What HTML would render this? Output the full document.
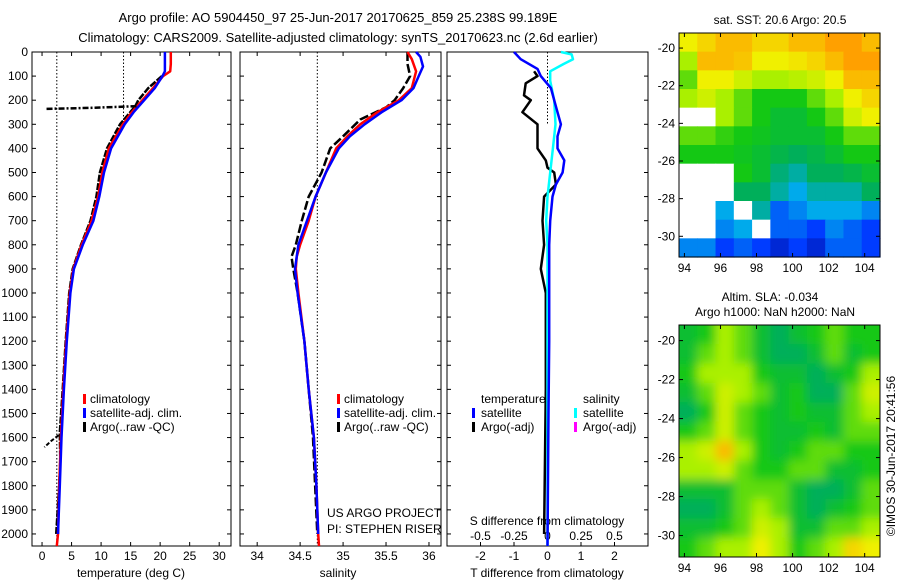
<!DOCTYPE html>
<html><head><meta charset="utf-8"><style>
html,body{margin:0;padding:0;background:#fff;}
svg{display:block;font-family:"Liberation Sans",sans-serif;}
text{font-size:12px;fill:#000;}
</style></head><body>
<svg id="fig" width="900" height="580" viewBox="0 0 900 580" xmlns="http://www.w3.org/2000/svg">
<defs>
<filter id="blur" x="-5%" y="-5%" width="110%" height="110%"><feGaussianBlur stdDeviation="5"/></filter>
<clipPath id="slaclip"><rect x="679" y="325" width="201" height="232"/></clipPath>
</defs>
<text x="338" y="22" text-anchor="middle" style="font-size:13px">Argo profile: AO 5904450_97 25-Jun-2017 20170625_859 25.238S 99.189E</text>
<text x="338" y="42" text-anchor="middle" style="font-size:13px">Climatology: CARS2009. Satellite-adjusted climatology: synTS_20170623.nc (2.6d earlier)</text>
<text x="780" y="24" text-anchor="middle">sat. SST: 20.6 Argo: 20.5</text>
<text x="770" y="301" text-anchor="middle">Altim. SLA: -0.034</text>
<text x="775" y="316" text-anchor="middle">Argo h1000: NaN h2000: NaN</text>
<text x="0" y="0" transform="translate(895,456) rotate(-90)" text-anchor="middle">©IMOS 30-Jun-2017 20:41:56</text>
<g id="g"></g>
</svg>
<script>
// ---- data ----
const depthTicks=[0,100,200,300,400,500,600,700,800,900,1000,1100,1200,1300,1400,1500,1600,1700,1800,1900,2000];
const tempTicks=[0,5,10,15,20,25,30];
const salTicks=[34,34.5,35,35.5,36];
const tdiffTicks=[-2,-1,0,1,2];
const sdiffTicks=[-0.5,-0.25,0,0.25,0.5];

const tClimDepth=[0,50,80,100,150,200,250,300,400,500,600,700,800,900,1000,1200,1400,1600,1800,2000,2050];
const tClim=[21.8,21.8,21.7,20.5,18.8,17,15.2,13.7,11.3,10.2,9.5,8.4,6.7,5.3,4.7,4.1,3.6,3.2,2.9,2.7,2.5];
const tSatDepth=[0,80,100,150,200,250,300,400,500,600,700,800,900,1000,1200,1400,1600,1800,2000];
const tSat=[20.8,20.8,20.4,19.1,17.3,15.5,14,11.7,10.5,9.7,8.7,6.9,5.4,4.8,4.2,3.7,3.3,3.0,2.7];
const tArgoDepth=[100,150,200,225,300,400,500,600,700,800,900,1000,1200,1400,1580,1700,1800,2000];
const tArgo=[20.3,18,16.3,15.8,13.2,11,9.8,9.2,8.2,6.6,5.2,4.6,4,3.5,3,3.1,2.9,2.4];
const tSpikeDepth=[225,232,236];
const tSpike=[16,8,0.5];
const tSpike2Depth=[1590,1615,1640];
const tSpike2=[2.8,1.5,0.4];

const sClimDepth=[0,30,80,150,200,250,300,350,400,500,600,700,800,850,900,1000,1200,1400,1600,1800,2000,2050];
const sClim=[35.75,35.8,35.85,35.8,35.65,35.4,35.2,35.05,34.92,34.8,34.68,34.6,34.5,34.46,34.45,34.48,34.55,34.6,34.66,34.69,34.71,34.72];
const sSatDepth=[0,20,60,100,150,200,250,300,350,400,500,600,700,800,900,1000,1200,1400,1600,1800,2000];
const sSat=[35.85,35.9,35.93,35.88,35.82,35.68,35.45,35.25,35.08,34.95,34.8,34.68,34.58,34.48,34.44,34.47,34.55,34.6,34.66,34.69,34.71];
const sArgoDepth=[0,50,100,150,200,230,280,350,400,500,600,700,800,850,900,1000,1200,1400,1600,2000];
const sArgo=[35.75,35.75,35.78,35.7,35.6,35.5,35.2,35.0,34.85,34.75,34.6,34.52,34.45,34.4,34.42,34.47,34.55,34.6,34.65,34.7];

const dTSatDepth=[0,30,70,100,150,200,250,300,350,400,450,500,550,600,700,800,1000,1200,1500,2050];
const dTSat=[-1,-0.8,-0.3,-0.2,0.1,0.2,0.3,0.4,0.3,0.3,0.5,0.45,0.25,0.15,0.08,0.05,0.05,0.05,0.03,0];
const dTArgoDepth=[80,100,130,180,200,250,300,400,450,480,500,550,600,700,800,900,1000,1200,1400,2000];
const dTArgo=[-0.4,-0.3,-0.65,-0.7,-0.5,-0.75,-0.3,-0.3,-0.05,0,0.2,0.25,-0.1,-0.15,-0.1,-0.2,-0.05,-0.05,-0.05,-0.1];
const dSSatDepth=[0,10,30,50,80,120,200,300,400,500,600,700,800,900,1200,2050];
const dSSat=[0.1,0.18,0.19,0.12,0.02,0.02,0.05,0.06,0.04,0.02,0,-0.01,0,0,0,0];

const mapLonTicks=[94,96,98,100,102,104];
const mapLatTicks=[-20,-22,-24,-26,-28,-30];
const N=null;
const sstGrid=[
[.7,.75,.8,.8,.75,.75,.8,.8,.85,.85,.8],
[.6,.8,.8,.78,.7,.7,.72,.75,.8,.85,.85],
[.55,.7,.7,.65,.6,.6,.62,.65,.7,.8,.8],
[.6,.65,.6,.55,.5,.5,.5,.55,.6,.7,.75],
[N,N,.6,.55,.5,.45,.45,.5,.55,.65,.7],
[.55,.55,.52,.5,.48,.45,.45,.45,.5,.55,.55],
[.5,.5,.5,.48,.45,.42,.4,.42,.45,.5,.5],
[N,N,N,.5,.45,.38,.35,.4,.4,.42,.45],
[N,N,N,.4,.4,.35,.3,.35,.35,.35,.4],
[N,N,.3,N,.35,.2,.25,.3,.3,.3,.25],
[N,N,.25,.3,N,.2,.2,.15,.25,.2,.15],
[.25,.25,.15,.2,.15,.1,.15,.1,.2,.2,.15]];
const slaGrid=[
[.45,.5,.6,.55,.45,.4,.45,.5,.55,.5,.5],
[.45,.55,.6,.55,.45,.4,.4,.45,.55,.45,.5],
[.5,.6,.6,.6,.5,.45,.45,.4,.45,.5,.6],
[.45,.55,.65,.6,.55,.45,.5,.4,.4,.55,.65],
[.4,.5,.65,.55,.5,.45,.5,.45,.45,.55,.6],
[.5,.55,.65,.55,.5,.45,.45,.5,.45,.55,.55],
[.6,.65,.8,.6,.5,.45,.5,.55,.55,.5,.5],
[.6,.6,.65,.55,.5,.5,.55,.55,.45,.45,.5],
[.45,.45,.45,.55,.55,.55,.45,.4,.4,.45,.55],
[.4,.4,.45,.55,.6,.55,.45,.4,.45,.5,.55],
[.45,.45,.5,.55,.65,.6,.45,.45,.55,.55,.6],
[.5,.55,.6,.6,.7,.6,.5,.55,.6,.75,.7]];

// ---- layout ----
const NS="http://www.w3.org/2000/svg";
const G=document.getElementById('g');
function mk(tag,parent,attrs){const e=document.createElementNS(NS,tag);for(const k in attrs)e.setAttribute(k,attrs[k]);(parent||G).appendChild(e);return e;}
const yTop=52,yBot=546,dMax=2050;
function yD(d){return yTop+d/dMax*(yBot-yTop);}
function lin(d0,d1,p0,p1){return v=>p0+(v-d0)/(d1-d0)*(p1-p0);}
const P1={x0:32,x1:231,sx:lin(-1.7,32,32,231)};
const P2={x0:240,x1:441,sx:lin(33.8,36.14,240,441)};
const P3={x0:447,x1:648,sx:lin(-3,3,447,648)};
const sdx=lin(-0.75,0.75,447,648);

function frame(P,name){
  const r=mk('rect',G,{x:P.x0,y:yTop,width:P.x1-P.x0,height:yBot-yTop,fill:'none',stroke:'#000','stroke-width':1});
  
  
  depthTicks.forEach(d=>{
    const t=mk('line',G,{x1:P.x0,x2:P.x0+4,y1:yD(d),y2:yD(d),stroke:'#000'});
    
    
    const t2=mk('line',G,{x1:P.x1-4,x2:P.x1,y1:yD(d),y2:yD(d),stroke:'#000'});
    
    
  });
}
function xTicks(P,ticks,sx,labelY,topTicks){
  ticks.forEach(v=>{
    const x=sx(v);
    const t=mk('line',G,{x1:x,x2:x,y1:yBot,y2:yBot-4,stroke:'#000'});
    
    
    if(topTicks){const t2=mk('line',G,{x1:x,x2:x,y1:yTop,y2:yTop+4,stroke:'#000'});
    
    }
    const l=mk('text',G,{x:x,y:labelY,'text-anchor':'middle'});
    l.textContent=String(v);
    
    
  });
}
function line(P,sx,depths,vals,color,w,name,dash){
  const pts=depths.map((d,i)=>sx(vals[i]).toFixed(1)+','+yD(d).toFixed(1)).join(' ');
  const a={points:pts,fill:'none',stroke:color,'stroke-width':w,'stroke-linejoin':'round'};
  if(dash)a['stroke-dasharray']=dash;
  const e=mk('polyline',G,a);
  
  
}
function vdot(x,y0,y1,name){
  const e=mk('line',G,{x1:x,x2:x,y1:y0,y2:y1,stroke:'#000','stroke-dasharray':'1.5 2','stroke-width':1});
  
  
}
function txt(x,y,s,name,anchor){
  const e=mk('text',G,{x:x,y:y,'text-anchor':anchor||'start'});
  e.textContent=s;
  
  
  return e;
}
function legMark(x,y,color,name){
  const e=mk('rect',G,{x:x,y:y-9,width:3,height:10,fill:color});
  
  
}

// panel 1 temperature
frame(P1,'temperature-panel');
depthTicks.forEach(d=>{txt(28,yD(d)+4,String(d),'depth-tick-label','end');});
xTicks(P1,tempTicks,P1.sx,560,true);
txt(131,577,'temperature (deg C)','temperature-axis-title','middle');
vdot(P1.sx(2.5),yTop,yBot,'temperature-ref-line-deep');
vdot(P1.sx(13.8),yTop,yD(300),'temperature-ref-line-shallow');
line(P1,P1.sx,tArgoDepth,tArgo,'#000',2.5,'temperature-argo-line','7 1.5');
line(P1,P1.sx,tClimDepth,tClim,'#ff0000',2.5,'temperature-climatology-line');
line(P1,P1.sx,tSatDepth,tSat,'#0000ff',2.5,'temperature-satellite-line');
line(P1,P1.sx,tSpikeDepth,tSpike,'#000',2.5,'temperature-argo-spike','6 2 2 2');
line(P1,P1.sx,tSpike2Depth,tSpike2,'#000',2,'temperature-argo-spike-deep','4 2');
legMark(83,403,'#ff0000','legend-climatology-mark');txt(90,403,'climatology','legend-climatology');
legMark(83,417,'#0000ff','legend-satellite-mark');txt(90,417,'satellite-adj. clim.','legend-satellite');
legMark(83,431,'#000','legend-argo-mark');txt(90,431,'Argo(..raw -QC)','legend-argo');

// panel 2 salinity
frame(P2,'salinity-panel');
xTicks(P2,salTicks,P2.sx,560,true);
txt(338,577,'salinity','salinity-axis-title','middle');
vdot(P2.sx(34.7),yTop,yBot,'salinity-ref-line');
line(P2,P2.sx,sArgoDepth,sArgo,'#000',2.5,'salinity-argo-line','9 3');
line(P2,P2.sx,sClimDepth,sClim,'#ff0000',2.5,'salinity-climatology-line');
line(P2,P2.sx,sSatDepth,sSat,'#0000ff',2.5,'salinity-satellite-line');
legMark(337,403,'#ff0000','legend-climatology-mark');txt(344,403,'climatology','legend-climatology');
legMark(337,417,'#0000ff','legend-satellite-mark');txt(344,417,'satellite-adj. clim.','legend-satellite');
legMark(337,431,'#000','legend-argo-mark');txt(344,431,'Argo(..raw -QC)','legend-argo');
txt(327,517,'US ARGO PROJECT','project-label');
txt(327,533,'PI: STEPHEN RISER','pi-label');

// panel 3 differences
frame(P3,'difference-panel');
xTicks(P3,tdiffTicks,P3.sx,560,false);
txt(547,577,'T difference from climatology','t-difference-axis-title','middle');
txt(547,525,'S difference from climatology','s-difference-axis-title','middle');
sdiffTicks.forEach(v=>{txt(sdx(v),540,String(v),'s-difference-tick-label','middle');});
vdot(P3.sx(0),yTop,yD(300),'zero-ref-line');
line(P3,P3.sx,dTArgoDepth,dTArgo,'#000',2.5,'t-diff-argo-line');
line(P3,sdx,dSSatDepth,dSSat,'#00ffff',2.5,'s-diff-satellite-line');
line(P3,P3.sx,dTSatDepth,dTSat,'#0000ff',2.5,'t-diff-satellite-line');
txt(481,403,'temperature','legend-temperature-header');
legMark(472,417,'#0000ff','legend-t-satellite-mark');txt(481,417,'satellite','legend-t-satellite');
legMark(472,431,'#000','legend-t-argo-mark');txt(481,431,'Argo(-adj)','legend-t-argo');
txt(583,403,'salinity','legend-salinity-header');
legMark(574,417,'#00ffff','legend-s-satellite-mark');txt(583,417,'satellite','legend-s-satellite');
legMark(574,431,'#ff00ff','legend-s-argo-mark');txt(583,431,'Argo(-adj)','legend-s-argo');

// maps
function cmap(v){
  const st=[[0,[0,0,130]],[0.15,[0,60,255]],[0.3,[0,170,235]],[0.4,[0,175,90]],[0.45,[10,190,50]],[0.5,[20,200,20]],[0.6,[170,240,0]],[0.7,[240,240,0]],[0.85,[255,160,0]],[1,[255,60,0]]];
  for(let i=1;i<st.length;i++){if(v<=st[i][0]){const a=st[i-1],b=st[i];const f=(v-a[0])/(b[0]-a[0]);
    return 'rgb('+a[1].map((c,k)=>Math.round(c+(b[1][k]-c)*f)).join(',')+')';}}
  return 'rgb(255,60,0)';
}
function map(M,grid,name,smooth){
  const lon=lin(93.7,104.85,M.x0,M.x1), lat=lin(-19.2,-31.1,M.y0,M.y1);
  const rows=grid.length, cols=grid[0].length;
  const cw=(M.x1-M.x0)/cols, ch=(M.y1-M.y0)/rows;
  const outer=mk('g',G,{});
  if(smooth)outer.setAttribute('clip-path','url(#slaclip)');
  const g=mk('g',outer,{});
  if(smooth)g.setAttribute('filter','url(#blur)');
  
  
  grid.forEach((row,r)=>row.forEach((v,c)=>{
    let x=M.x0+c*cw,y=M.y0+r*ch,w=cw+0.6,h=ch+0.6;
    if(smooth){if(c===0){x-=10;w+=10;}if(c===cols-1)w+=10;if(r===0){y-=10;h+=10;}if(r===rows-1)h+=10;}
    const e=mk('rect',g,{x:x,y:y,width:w,height:h,fill:v===null?'#fff':cmap(v)});
    
    
  }));
  const f=mk('rect',G,{x:M.x0,y:M.y0,width:M.x1-M.x0,height:M.y1-M.y0,fill:'none',stroke:'#000'});
  
  
  mapLonTicks.forEach(v=>{const x=lon(v);
    const t=mk('line',G,{x1:x,x2:x,y1:M.y1,y2:M.y1-4,stroke:'#000'});
    
    
    const t2=mk('line',G,{x1:x,x2:x,y1:M.y0,y2:M.y0+4,stroke:'#000'});
    
    
    txt(x,M.y1+15,String(v),'lon-tick-label','middle');});
  mapLatTicks.forEach(v=>{const y=lat(v);
    const t=mk('line',G,{x1:M.x0,x2:M.x0+4,y1:y,y2:y,stroke:'#000'});
    
    
    const t2=mk('line',G,{x1:M.x1-4,x2:M.x1,y1:y,y2:y,stroke:'#000'});
    
    
    txt(M.x0-4,y+4,String(v),'lat-tick-label','end');});
}
map({x0:679,x1:880,y0:33,y1:257},sstGrid,'sst-map',false);
map({x0:679,x1:880,y0:325,y1:557},slaGrid,'sla-map',true);
</script>
</body></html>
